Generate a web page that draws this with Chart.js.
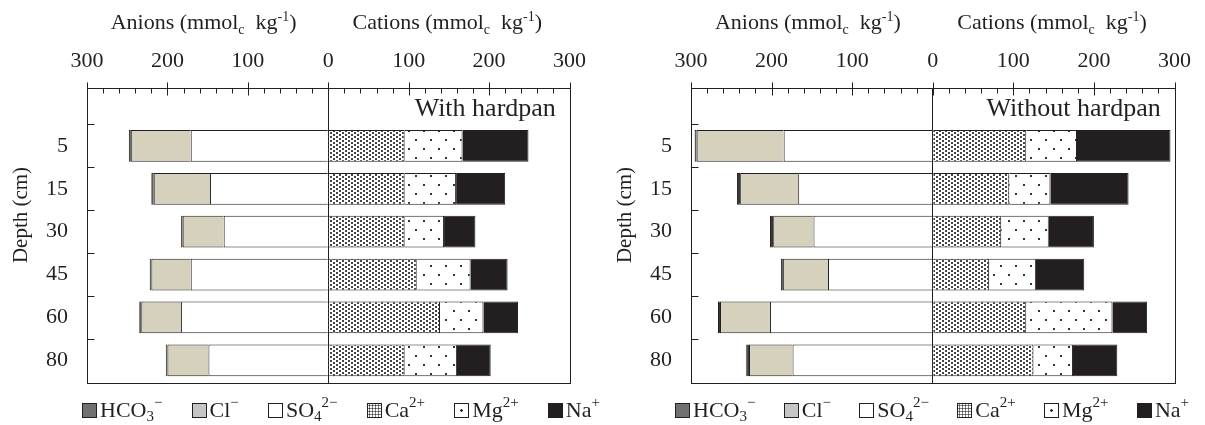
<!DOCTYPE html>
<html>
<head>
<meta charset="utf-8">
<script src="https://cdn.jsdelivr.net/npm/chart.js@4.4.1/dist/chart.umd.min.js"></script>
<style>
    html, body { margin: 0; padding: 0; background: #fff; }
    #wrap { position: relative; width: 1205px; height: 425px; overflow: hidden; }
    .panel { position: absolute; top: 0; height: 425px; }
    #panel-with { left: 0; width: 600px; }
    #panel-without { left: 600px; width: 605px; }
    .legend {
        position: absolute; top: 398px; height: 24px;
        display: flex; justify-content: space-between; align-items: center;
        font: 22px "Liberation Serif", "Times New Roman", serif; color: #231f20;
        line-height: 24px;
    }
    .legend .item { display: flex; align-items: center; white-space: nowrap; }
    .legend .sw { width: 15px; height: 15px; box-sizing: border-box; border: 1px solid #231f20; margin-right: 3px; }
    .legend sub, .legend sup { font-size: 15px; vertical-align: 0; position: relative; line-height: 0; }
    .legend sub { top: 6px; }
    .legend sup { top: -8px; }
</style>
</head>
<body>
<div id="wrap">
    <div class="panel" id="panel-with"><canvas id="chart-with"></canvas><div class="legend" id="legend-with" style="left:82px;width:518px"></div></div>
    <div class="panel" id="panel-without"><canvas id="chart-without"></canvas><div class="legend" id="legend-without" style="left:75px;width:514px"></div></div>
</div>
<script>
(function () {
    'use strict';

    // depth rows (cm), top to bottom
    var depthLabels = ['5', '15', '30', '45', '60', '80'];

    // With hardpan, mmolc/kg
    var hco3With = [2.5, 3, 2, 2, 2.5, 2];
    var clWith = [74.5, 70, 51, 49, 49.5, 51];
    var so4With = [171, 147, 130, 171, 183, 149];
    var caWith = [95, 95, 95, 110, 139, 95];
    var mgWith = [72, 64, 49, 67, 54, 65];
    var naWith = [82, 61, 39, 46, 43, 42];

    // Without hardpan, mmolc/kg
    var hco3Without = [2.5, 4, 4, 2.5, 2.5, 3.5];
    var clWithout = [108, 72, 50, 56, 62, 54];
    var so4Without = [185, 167, 148, 130, 202, 174];
    var caWithout = [116, 95, 85, 70, 116, 125];
    var mgWithout = [63, 51, 59, 58, 107, 49];
    var naWithout = [116, 97, 56, 60, 43, 55];

    var xTicks = [-300, -200, -100, 0, 100, 200, 300];

    var ionLegend = [
        'HCO<sub>3</sub><sup>−</sup>',
        'Cl<sup>−</sup>',
        'SO<sub>4</sub><sup>2−</sup>',
        'Ca<sup>2+</sup>',
        'Mg<sup>2+</sup>',
        'Na<sup>+</sup>'
    ];

    var INK = '#231f20';
    var FONT = '"Liberation Serif", "Times New Roman", serif';

    function makePattern(w, h, draw) {
        var c = document.createElement('canvas');
        c.width = w;
        c.height = h;
        var g = c.getContext('2d');
        g.fillStyle = '#fff';
        g.fillRect(0, 0, w, h);
        draw(g);
        return g.createPattern(c, 'repeat');
    }

    var caPattern = makePattern(6, 4, function (g) {
        g.fillStyle = '#444';
        g.fillRect(0, 0, 2, 2);
        g.fillRect(3, 2, 2, 2);
    });
    var mgPattern = makePattern(15, 18, function (g) {
        g.fillStyle = '#333';
        g.fillRect(3, 4, 2, 2);
        g.fillRect(10, 13, 2, 2);
    });

    var swatchCss = [
        'background:#707071',
        'background:#c5c4c6',
        'background:#fff',
        'background:#fff radial-gradient(#444 0.9px, transparent 1.2px) 0 0/3px 3px',
        'background:#fff radial-gradient(circle at 50% 50%, #222 1.1px, transparent 1.5px)',
        'background:' + INK
    ];

    function buildLegend(id) {
        var el = document.getElementById(id);
        el.innerHTML = ionLegend.map(function (txt, i) {
            return '<span class="item"><span class="sw" style="' + swatchCss[i] + '"></span>' + txt + '</span>';
        }).join('');
    }

    function points(values, sign) {
        return values.map(function (v, i) {
            return { x: sign * v, y: i + 1 };
        });
    }

    function buildDatasets(hco3, cl, so4, ca, mg, na) {
        // anions stack leftwards from zero: SO4 first, then Cl, then HCO3
        var sets = [
            { label: 'SO4', data: points(so4, -1), backgroundColor: '#fff' },
            { label: 'Cl', data: points(cl, -1), backgroundColor: '#d6d1bd' },
            { label: 'HCO3', data: points(hco3, -1), backgroundColor: '#3a3637' },
            { label: 'Ca', data: points(ca, 1), backgroundColor: caPattern },
            { label: 'Mg', data: points(mg, 1), backgroundColor: mgPattern },
            { label: 'Na', data: points(na, 1), backgroundColor: INK }
        ];
        return sets.map(function (d) {
            return Object.assign(d, {
                stack: 'ions',
                borderColor: INK,
                borderWidth: 1,
                barPercentage: 0.74,
                categoryPercentage: 1
            });
        });
    }

    function drawRich(ctx, parts, cx, cy, size) {
        var small = Math.round(size * 0.62);
        var widths = [];
        var total = 0;
        parts.forEach(function (p) {
            ctx.font = (p[1] ? small : size) + 'px ' + FONT;
            var w = ctx.measureText(p[0]).width;
            widths.push(w);
            total += w;
        });
        var x = cx - total / 2;
        var base = cy + size * 0.33;
        ctx.textAlign = 'left';
        ctx.textBaseline = 'alphabetic';
        parts.forEach(function (p, i) {
            ctx.font = (p[1] ? small : size) + 'px ' + FONT;
            var dy = p[1] === 1 ? size * 0.22 : (p[1] === 2 ? -size * 0.38 : 0);
            ctx.fillText(p[0], x, base + dy);
            x += widths[i];
        });
    }

    var decorPlugin = {
        id: 'decor',
        afterDraw: function (chart, args, opts) {
            var ctx = chart.ctx;
            var area = chart.chartArea;
            var xs = chart.scales.x;
            var ys = chart.scales.y;
            ctx.save();
            ctx.strokeStyle = INK;
            ctx.fillStyle = INK;
            ctx.lineWidth = 1;

            var l = Math.round(area.left) + 0.5;
            var t = Math.round(area.top) + 0.5;
            ctx.strokeRect(l, t, Math.round(area.right) - Math.round(area.left), Math.round(area.bottom) - Math.round(area.top));

            // top axis: majors every 100 cross the line, minors every 20 point inside
            for (var v = -300; v <= 300; v += 20) {
                var px = Math.round(xs.getPixelForValue(v)) + 0.5;
                var major = v % 100 === 0;
                ctx.beginPath();
                ctx.moveTo(px, t - (major ? 6 : 0));
                ctx.lineTo(px, t + (major ? 7 : 5));
                ctx.stroke();
            }

            // depth ticks between rows, inside the frame
            for (var k = 0; k < depthLabels.length; k++) {
                var py = Math.round(ys.getPixelForValue(k + 0.5)) + 0.5;
                ctx.beginPath();
                ctx.moveTo(l, py);
                ctx.lineTo(l + 7, py);
                ctx.stroke();
            }

            drawRich(ctx, [['Anions (mmol', 0], ['c', 1], ['  kg', 0], ['-1', 2], [')', 0]], xs.getPixelForValue(-155), 22, 22);
            drawRich(ctx, [['Cations (mmol', 0], ['c', 1], ['  kg', 0], ['-1', 2], [')', 0]], xs.getPixelForValue(148), 22, 22);

            ctx.font = '26px ' + FONT;
            ctx.textAlign = 'right';
            ctx.textBaseline = 'middle';
            ctx.fillText(opts.corner, xs.getPixelForValue(283), 109);

            ctx.translate(opts.depthX, 215);
            ctx.rotate(-Math.PI / 2);
            ctx.font = '21px ' + FONT;
            ctx.textAlign = 'center';
            ctx.fillText('Depth (cm)', 0, 0);
            ctx.restore();
        }
    };

    function makeChart(canvasId, datasets, corner, yWidth, padRight, depthX) {
        return new Chart(document.getElementById(canvasId), {
            type: 'bar',
            data: { datasets: datasets },
            plugins: [decorPlugin],
            options: {
                indexAxis: 'y',
                responsive: true,
                maintainAspectRatio: false,
                animation: false,
                events: [],
                layout: { padding: { left: 0, right: padRight, top: 0, bottom: 42 } },
                plugins: {
                    legend: { display: false },
                    tooltip: { enabled: false },
                    decor: { corner: corner, depthX: depthX }
                },
                scales: {
                    x: {
                        type: 'linear',
                        position: 'top',
                        min: -300,
                        max: 300,
                        afterFit: function (scale) { scale.height = 88; },
                        afterBuildTicks: function (scale) {
                            scale.ticks = xTicks.map(function (v) { return { value: v }; });
                        },
                        ticks: {
                            autoSkip: false,
                            maxRotation: 0,
                            padding: 14,
                            color: INK,
                            font: { family: FONT, size: 22 },
                            callback: function (value) { return String(Math.abs(value)); }
                        },
                        grid: {
                            drawTicks: false,
                            lineWidth: 1,
                            color: function (c) { return c.tick && c.tick.value === 0 ? INK : 'rgba(0,0,0,0)'; }
                        },
                        border: { display: false }
                    },
                    y: {
                        type: 'linear',
                        reverse: true,
                        offset: false,
                        min: -0.35,
                        max: 6.53,
                        afterFit: function (scale) { scale.width = yWidth; },
                        afterBuildTicks: function (scale) {
                            scale.ticks = depthLabels.map(function (d, i) { return { value: i + 1 }; });
                        },
                        ticks: {
                            autoSkip: false,
                            padding: 19,
                            color: INK,
                            font: { family: FONT, size: 22 },
                            callback: function (value, index) { return depthLabels[index]; }
                        },
                        grid: { display: false, drawTicks: false, offset: false },
                        border: { display: false }
                    }
                }
            }
        });
    }

    function init() {
        buildLegend('legend-with');
        buildLegend('legend-without');
        makeChart('chart-with', buildDatasets(hco3With, clWith, so4With, caWith, mgWith, naWith), 'With hardpan', 87, 22, 21);
        makeChart('chart-without', buildDatasets(hco3Without, clWithout, so4Without, caWithout, mgWithout, naWithout), 'Without hardpan', 91, 24, 25);
    }

    if (document.readyState === 'loading') {
        document.addEventListener('DOMContentLoaded', init);
    } else {
        init();
    }
})();
</script>
</body>
</html>
